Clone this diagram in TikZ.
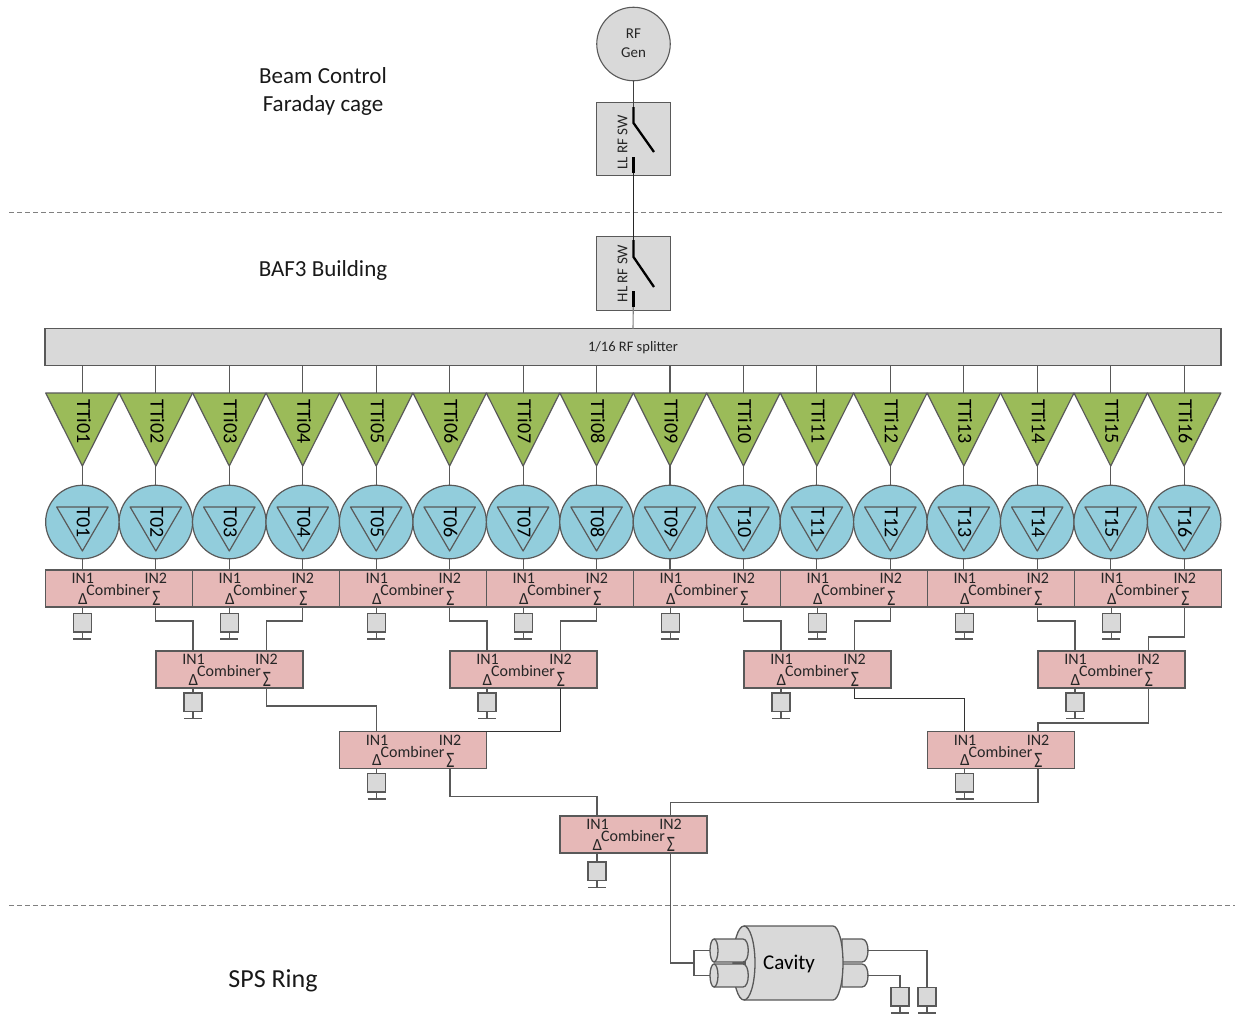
\documentclass[tikz,border=0pt]{standalone}
\usepackage{fontspec}
\setmainfont{Carlito}
\usetikzlibrary{calc}
\definecolor{edgec}{HTML}{595959}
\definecolor{grayf}{HTML}{D9D9D9}
\definecolor{pinkf}{HTML}{E6B8B7}
\definecolor{greenf}{HTML}{9BBB59}
\definecolor{bluef}{HTML}{92CDDC}
\definecolor{txt}{HTML}{262626}
\newcommand{\fs}[1]{\fontsize{#1}{#1}\selectfont}
\tikzset{
  every node/.style={outer sep=0pt},
  wire/.style={draw=edgec,line width=1.1pt},
  bwire/.style={draw=black!80,line width=1pt},
  switchline/.style={draw=black,line width=2.3pt},
  greybox/.style={draw=edgec,fill=grayf,line width=1.1pt,inner sep=0pt},
  combbox/.style={draw=edgec,fill=pinkf,line width=1.1pt,inner sep=0pt,minimum width=147pt,minimum height=37pt},
  loadbox/.style={greybox,minimum width=18pt,minimum height=18.5pt},
  swbox/.style={greybox,minimum width=73.5pt,minimum height=73.5pt},
  ampshape/.style={draw=edgec,fill=greenf,line width=1.2pt},
  tube/.style={draw=edgec,fill=bluef,line width=1.2pt,circle,inner sep=0pt,minimum size=73.5pt},
  inner/.style={draw=edgec,line width=1.2pt},
  sep/.style={draw=gray,line width=1pt,dash pattern=on 5pt off 3pt},
  lbl/.style={inner sep=0pt,text=txt,font=\fs{15}},
  title/.style={inner sep=0pt,text=black!90,font=\fs{23},anchor=base},
  vlbl/.style={inner sep=0pt,text=black,rotate=-90,font=\fs{20}},
  cyl/.style={draw=edgec,fill=grayf,line width=1.3pt},
}
% combiner: name, left x, top y
\newcommand{\comb}[3]{%
  \node[combbox,anchor=north west] (#1) at (#2,#3) {};
  \coordinate (#1-a) at (#2+37,#3);
  \coordinate (#1-b) at (#2+110.5,#3);
  \coordinate (#1-d) at (#2+37,#3+37);
  \coordinate (#1-s) at (#2+110.5,#3+37);
  \node[lbl,font=\fs{16}] (#1-t1) at (#2+37.5,#3+8.5) {IN1};
  \node[lbl,font=\fs{16}] (#1-t2) at (#2+110.5,#3+8.5) {IN2};
  \node[lbl,font=\fs{16}] (#1-t) at (#2+73,#3+20) {Combiner};
  \node[lbl,font=\fs{22},xscale=0.8] (#1-x) at (#2+111,#3+28.5) {Σ};
  \node[lbl,font=\fs{17}] (#1-y) at (#2+37.5,#3+29) {Δ};
}
% load: name, x centre, top y of box, start coordinate
\newcommand{\load}[4]{%
  \node[loadbox,anchor=north] (#1) at (#2,#3) {};
  \coordinate (#1-g) at (#2,#3+25.5);
  \draw[wire] (#4) -- (#1.north);
  \draw[wire] (#1.south) -- (#1-g);
  \draw[wire] ($(#1-g)+(-9,0)$) -- ($(#1-g)+(9,0)$);
}
\begin{document}
\begin{tikzpicture}[x=1pt,y=-1pt]
\useasboundingbox (0,0) rectangle (1235,1015);
\fill[white] (0,0) rectangle (1235,1015);

% separators
\coordinate (s1a) at (9,212.5); \coordinate (s1b) at (1223,212.5);
\coordinate (s2a) at (9,905); \coordinate (s2b) at (1235,905);
\draw[sep] (s1a) -- (s1b);
\draw[sep] (s2a) -- (s2b);

% titles
\node[title] (tb1) at (323,83) {Beam Control};
\node[title] (tb2) at (323,111) {Faraday cage};
\node[title] (tb3) at (323,276) {BAF3 Building};
\node[title,font=\fs{26}] (tb4) at (273,987) {SPS Ring};

% generator and switches
\node[greybox,circle,minimum size=73.5pt] (gen) at (633.5,44) {};
\node[lbl,font=\fs{15}] (gent1) at (633.5,34) {RF};
\node[lbl,font=\fs{15}] (gent2) at (633.5,53) {Gen};
\node[swbox] (ll) at (633.5,139) {};
\node[swbox] (hl) at (633.5,273.5) {};
\node[lbl,rotate=90,font=\fs{15}] (llt) at (622.5,142.5) {LL RF SW};
\node[lbl,rotate=90,font=\fs{15}] (hlt) at (622.5,273.5) {HL RF SW};
\node[greybox,minimum width=1176pt,minimum height=36.5pt] (split) at (633,347) {};
\node[lbl,font=\fs{14.5}] (splitt) at (633,347.5) {1/16 RF splitter};
\coordinate (la) at (633.5,123);
\coordinate (lb) at (654,152);
\coordinate (lc) at (633.5,157);
\coordinate (ha) at (633.5,257);
\coordinate (hb) at (654,287);
\coordinate (hc) at (633.5,291);
\draw[draw=black!75,line width=1.5pt] (gen.south) -- (la);
\draw[draw=black!85,line width=1.5pt] (lc) -- (ha);
\draw[wire,draw=gray] (hc) -- (split.north);
\draw[switchline] ($(la)+(0,-16)$) -- (la) -- (lb);
\draw[switchline] (lc) -- ($(lc)+(0,16)$);
\draw[switchline] ($(ha)+(0,-17)$) -- (ha) -- (hb);
\draw[switchline] (hc) -- ($(hc)+(0,16)$);

% amplifiers and tubes
\foreach \n [count=\i from 0] in {01,02,03,04,05,06,07,08,09,10,11,12,13,14,15,16}{
  \pgfmathsetmacro{\cx}{82.4+73.45*\i}
  \coordinate (tt\n-top) at (\cx,393);
  \coordinate (tt\n-bot) at (\cx,466);
  \draw[wire] (tt\n-top |- split.south) -- (tt\n-top);
  \draw[wire] (tt\n-bot) -- (\cx,486);
  \draw[ampshape,line join=round] (\cx-36.7,393) -- (\cx+36.7,393) -- (tt\n-bot) -- cycle;
  \node[vlbl] (ttl\n) at (\cx+1.5,421.5) {TTi\n};
  \node[tube] (tu\n) at (\cx,522) {};
  \draw[inner,line join=round] (\cx-25.7,507) -- (\cx+25.7,507) -- (\cx,551) -- cycle;
  \node[vlbl] (tul\n) at (\cx+1,523) {T\n};
  \draw[wire] (tu\n.south) -- (\cx,570);
}

% combiners
\foreach \k/\px in {1/45.3,2/192.3,3/339.3,4/486.3,5/633.3,6/780.3,7/927.3,8/1074.3}{
  \comb{ca\k}{\px}{570}
  \load{la\k}{\px+37}{613.5}{ca\k-d}
}
\foreach \k/\px in {1/156,2/450,3/744,4/1038}{
  \comb{cb\k}{\px}{651}
  \load{lb\k}{\px+37}{693}{cb\k-d}
}
\foreach \k/\px in {1/339.5,2/927.5}{
  \comb{cc\k}{\px}{731.5}
  \load{lc\k}{\px+37}{773.5}{cc\k-d}
}
\comb{cd}{560}{816}
\load{ld}{597}{862}{cd-d}

% combiner tree
\draw[wire] (ca1-s) -- ++(0,14) -| (cb1-a);
\draw[wire] (ca2-s) -- ++(0,14) -| (cb1-b);
\draw[wire] (ca3-s) -- ++(0,14) -| (cb2-a);
\draw[wire] (ca4-s) -- ++(0,14) -| (cb2-b);
\draw[wire] (ca5-s) -- ++(0,14) -| (cb3-a);
\draw[wire] (ca6-s) -- ++(0,14) -| (cb3-b);
\draw[wire] (ca7-s) -- ++(0,14) -| (cb4-a);
\draw[wire] (ca8-s) -- ++(0,30) -| (cb4-b);
\draw[wire] (cb1-s) -- ++(0,18) -| (cc1-a);
\draw[bwire] (cb2-s) -- ++(0,43) -| (cc1-b);
\draw[bwire] (cb3-s) -- ++(0,10) -| (cc2-a);
\draw[wire] (cb4-s) -- ++(0,35) -| (cc2-b);
\draw[wire] (cc1-s) -- ++(0,28) -| (cd-a);
\draw[wire] (cc2-s) -- ++(0,34) -| (cd-b);

% cavity: right ports behind the body
\draw[cyl] (842,939) -- (862,939) .. controls (870,939) and (870,962) .. (862,962) -- (842,962) -- cycle;
\draw[cyl] (842,964) -- (862,964) .. controls (870,964) and (870,987) .. (862,987) -- (842,987) -- cycle;
% body
\draw[cyl] (744,926) -- (833,926) .. controls (838.5,926) and (843,942.6) .. (843,963) .. controls (843,983.4) and (838.5,1000) .. (833,1000) -- (744,1000) .. controls (738,1000) and (733,983.4) .. (733,963) .. controls (733,942.6) and (738,926) .. (744,926) -- cycle;
\draw[cyl,fill=none] (744,926) .. controls (750,926) and (755,942.6) .. (755,963) .. controls (755,983.4) and (750,1000) .. (744,1000);
\node[lbl,font=\fs{21},text=black] (cavt) at (789,964) {Cavity};
% left ports
\draw[wire] (733,962) -- (746,962);
\draw[wire] (733,964) -- (746,964);
\draw[cyl] (714,939) -- (743,939) .. controls (750,939) and (750,962) .. (743,962) -- (714,962);
\draw[cyl] (714,964) -- (743,964) .. controls (750,964) and (750,987) .. (743,987) -- (714,987);
\draw[cyl] (714,950.5) ellipse[x radius=4,y radius=11.5];
\draw[cyl] (714,975.5) ellipse[x radius=4,y radius=11.5];
\coordinate (pl1) at (710,950.5);
\coordinate (pl2) at (710,975.5);
\coordinate (pr1) at (867,950.5);
\coordinate (pr2) at (867,975.5);
\coordinate (fork) at (694,963);
\draw[wire] (cd-s) |- (fork);
\draw[wire] (pl1) -| (fork) |- (pl2);

% cavity loads
\node[loadbox,anchor=north] (lz1) at (900,987.5) {};
\node[loadbox,anchor=north] (lz2) at (927,987.5) {};
\coordinate (lz1g) at (900,1013);
\coordinate (lz2g) at (927,1013);
\draw[wire] (pr1) -| (lz2.north);
\draw[wire] (pr2) -| (lz1.north);
\draw[wire] (lz1.south) -- (lz1g);
\draw[wire] (lz2.south) -- (lz2g);
\draw[wire] ($(lz1g)+(-9,0)$) -- ($(lz1g)+(9,0)$);
\draw[wire] ($(lz2g)+(-9,0)$) -- ($(lz2g)+(9,0)$);
\end{tikzpicture}
\end{document}
